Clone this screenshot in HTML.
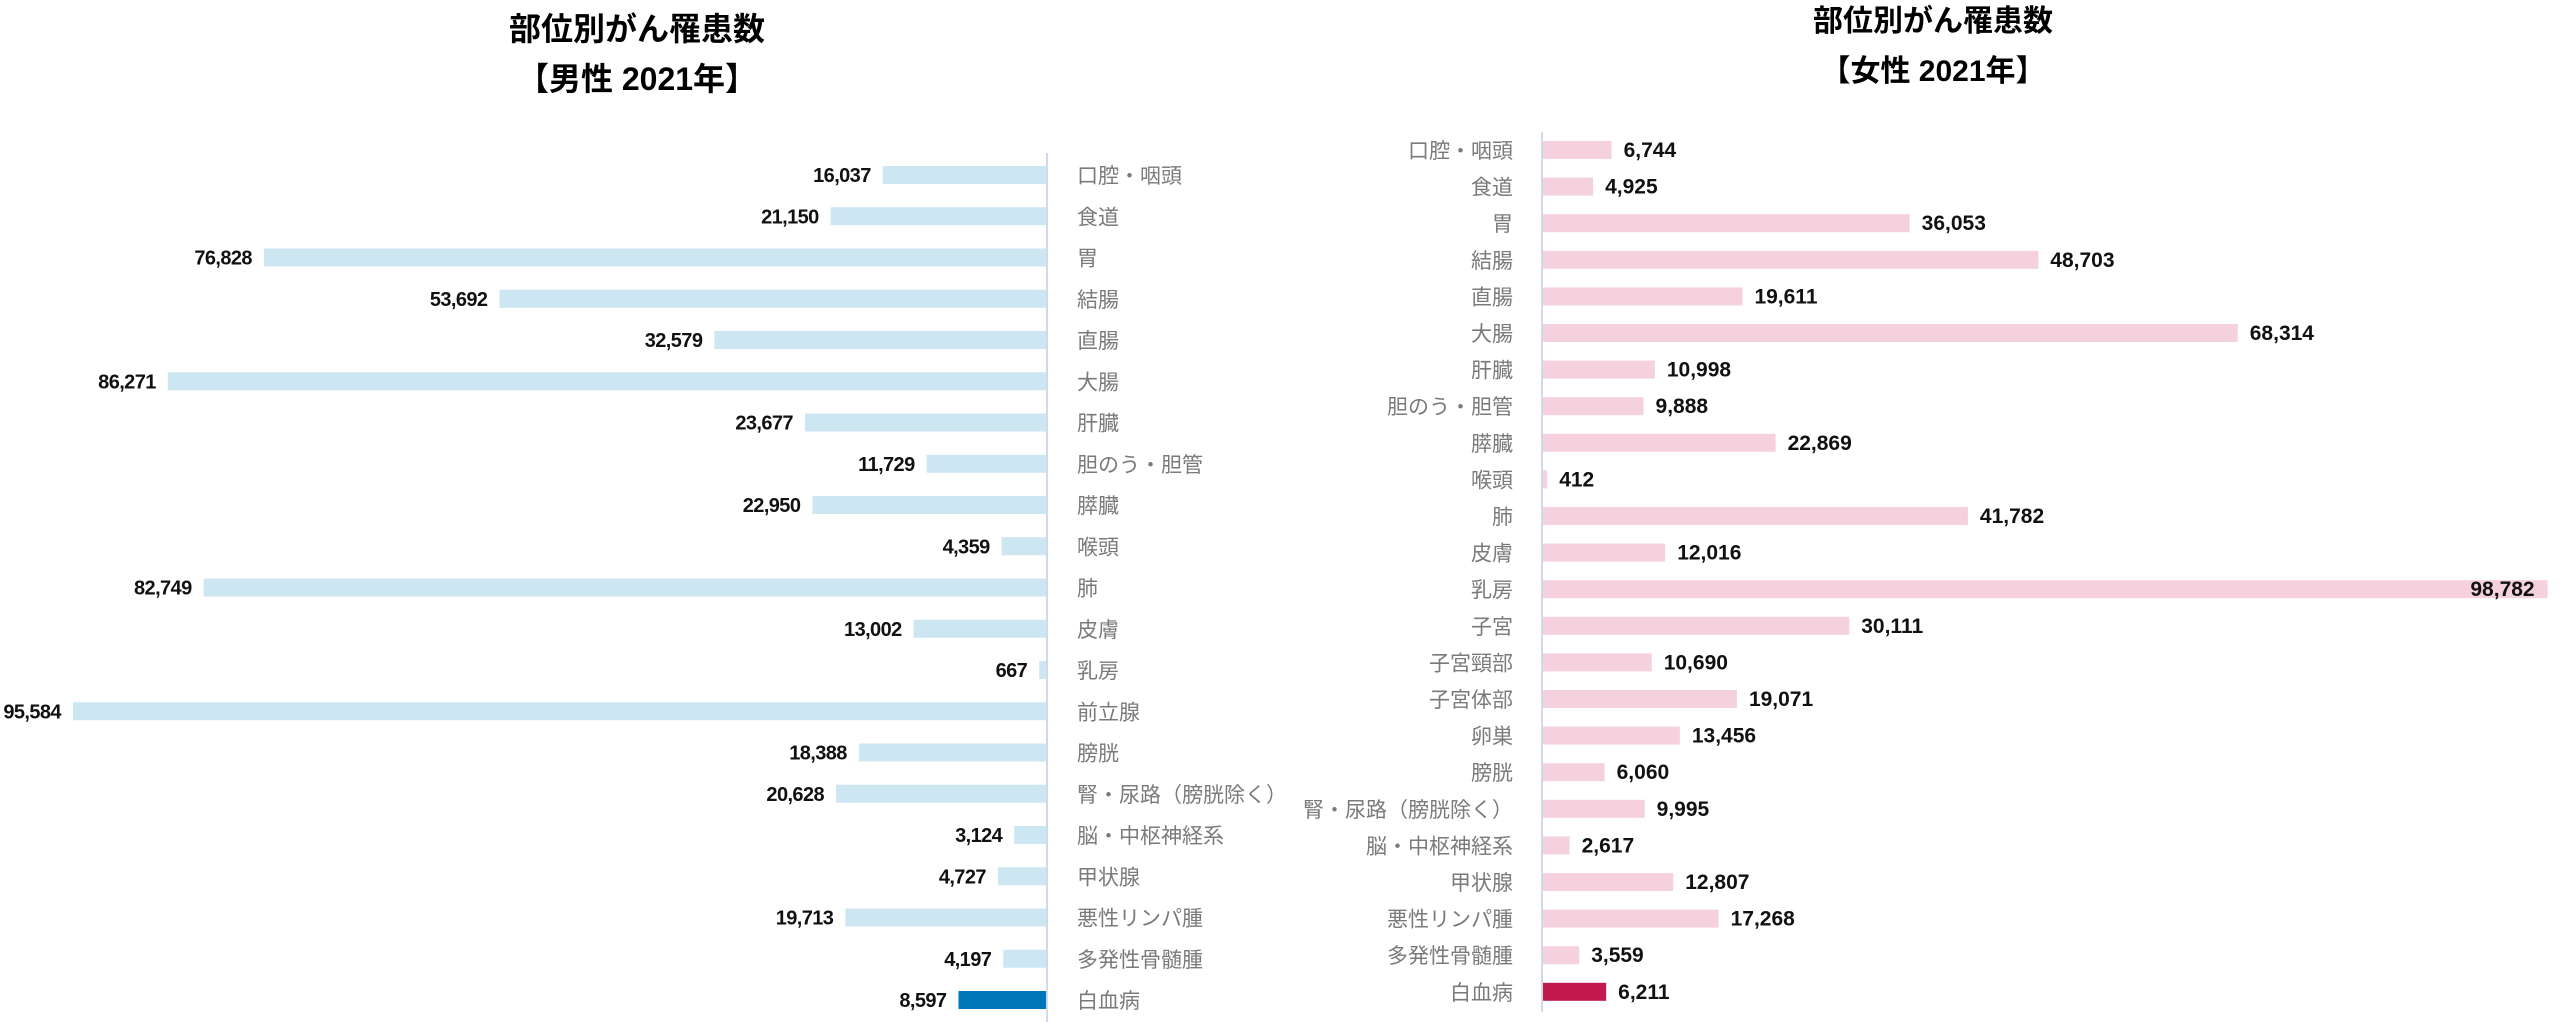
<!DOCTYPE html>
<html><head><meta charset="utf-8"><style>
html,body{margin:0;padding:0;background:#fff;}
svg{display:block;}
.t{font-family:"Liberation Sans","Noto Sans CJK JP",sans-serif;font-weight:bold;fill:#000;}
.c{font-family:"Liberation Sans","Noto Sans CJK JP",sans-serif;fill:#7a7a7a;font-size:21px;}
.v{font-family:"Liberation Sans","Noto Sans CJK JP",sans-serif;font-weight:bold;fill:#111;font-size:21px;}
.vm{font-family:"Liberation Sans","Noto Sans CJK JP",sans-serif;font-weight:bold;fill:#111;font-size:20px;letter-spacing:-0.6px;}
</style></head><body>
<svg width="2560" height="1022" xmlns="http://www.w3.org/2000/svg">
<text class="t" x="637" y="40" font-size="32" text-anchor="middle">部位別がん罹患数</text>
<text class="t" x="637" y="90" font-size="32" text-anchor="middle">【男性 2021年】</text>
<text class="t" x="1933" y="31" font-size="30" text-anchor="middle">部位別がん罹患数</text>
<text class="t" x="1933" y="81" font-size="30" text-anchor="middle">【女性 2021年】</text>
<line x1="1047" y1="153" x2="1047" y2="1022" stroke="#d0d9ea" stroke-width="2"/>
<line x1="1542" y1="132" x2="1542" y2="1012" stroke="#d0d9ea" stroke-width="2"/>
<g id="m"></g><g id="f"></g>
</svg>
<script>
var NS="http://www.w3.org/2000/svg";
function el(p,t,a,txt){var e=document.createElementNS(NS,t);for(var k in a)e.setAttribute(k,a[k]);if(txt!=null)e.textContent=txt;p.appendChild(e);return e;}
function fmt(n){return n.toString().replace(/\B(?=(\d{3})+(?!\d))/g,",");}
var male=[["口腔・咽頭",16037],["食道",21150],["胃",76828],["結腸",53692],["直腸",32579],["大腸",86271],["肝臓",23677],["胆のう・胆管",11729],["膵臓",22950],["喉頭",4359],["肺",82749],["皮膚",13002],["乳房",667],["前立腺",95584],["膀胱",18388],["腎・尿路（膀胱除く）",20628],["脳・中枢神経系",3124],["甲状腺",4727],["悪性リンパ腫",19713],["多発性骨髄腫",4197],["白血病",8597]];
var fem=[["口腔・咽頭",6744],["食道",4925],["胃",36053],["結腸",48703],["直腸",19611],["大腸",68314],["肝臓",10998],["胆のう・胆管",9888],["膵臓",22869],["喉頭",412],["肺",41782],["皮膚",12016],["乳房",98782],["子宮",30111],["子宮頸部",10690],["子宮体部",19071],["卵巣",13456],["膀胱",6060],["腎・尿路（膀胱除く）",9995],["脳・中枢神経系",2617],["甲状腺",12807],["悪性リンパ腫",17268],["多発性骨髄腫",3559],["白血病",6211]];
var gm=document.getElementById("m"),gf=document.getElementById("f");
male.forEach(function(d,i){
 var cy=175+i*41.25,w=d[1]*0.01018,x=1046-w;
 el(gm,"rect",{x:x,y:cy-9,width:w,height:18,fill:i==20?"#0077b6":"#cce6f2"});
 el(gm,"text",{"class":"vm",x:x-12,y:cy+7,"text-anchor":"end"},fmt(d[1]));
 el(gm,"text",{"class":"c",x:1077,y:cy+8},d[0]);
});
fem.forEach(function(d,i){
 var cy=150+i*36.6,w=d[1]*0.01017;
 el(gf,"rect",{x:1543,y:cy-9,width:w,height:18,fill:i==23?"#c0184f":"#f5d1dd"});
 if(i==12) el(gf,"text",{"class":"v",x:1543+w-13,y:cy+7,"text-anchor":"end"},fmt(d[1]));
 else el(gf,"text",{"class":"v",x:1543+w+12,y:cy+7},fmt(d[1]));
 el(gf,"text",{"class":"c",x:1513,y:cy+8,"text-anchor":"end"},d[0]);
});
</script>
</body></html>
